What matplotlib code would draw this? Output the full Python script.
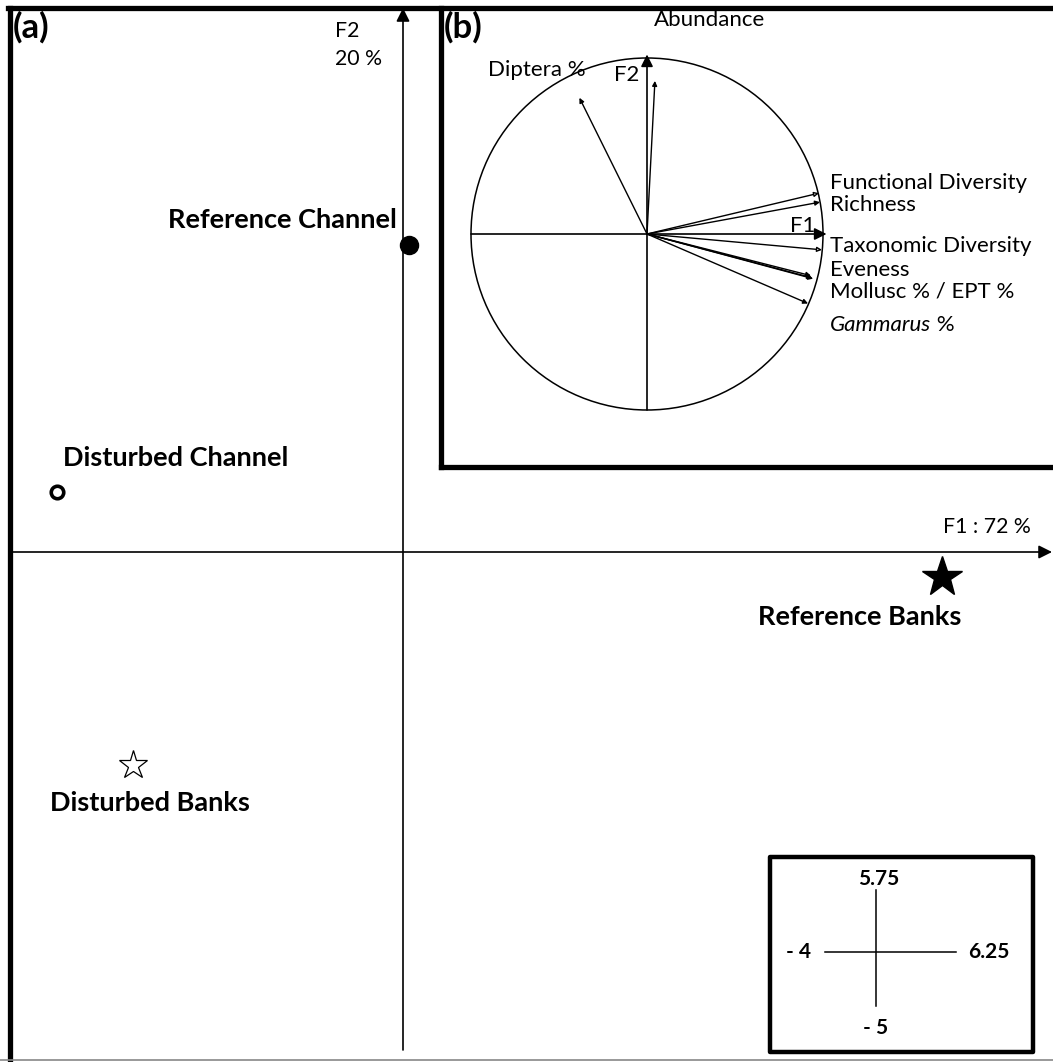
import matplotlib
matplotlib.use("Agg")
import matplotlib.pyplot as plt
from matplotlib.lines import Line2D
from matplotlib.patches import Circle, Rectangle

plt.rcParams['font.family'] = ['Lato', 'DejaVu Sans']

# ---------------- data ----------------
# Panel (a): site scores on F1 / F2
site_names = ["Reference Channel", "Disturbed Channel", "Reference Banks", "Disturbed Banks"]
site_f1 = [0.06, -3.52, 5.49, -2.75]
site_f2 = [3.25, 0.63, -0.26, -2.25]
f1_label = "F1 : 72 %"
f2_label = ["F2", "20 %"]

# Panel (b): correlation circle loadings
var_names = ["Functional Diversity", "Richness", "Taxonomic Diversity", "Eveness",
             "Mollusc %", "EPT %", "Gammarus %", "Diptera %", "Abundance"]
var_f1 = [0.977, 0.983, 0.994, 0.938, 0.932, 0.944, 0.915, -0.384, 0.045]
var_f2 = [0.232, 0.181, -0.090, -0.249, -0.237, -0.254, -0.395, 0.774, 0.870]

# Scale inset: axis extents
scale_x = [-4, 6.25]
scale_y = [-5, 5.75]
scale_labels = ["- 4", "6.25", "- 5", "5.75"]

# ---------------- figure ----------------
W, H = 1053, 1062
fig = plt.figure(figsize=(W / 100, H / 100), dpi=100)


def rect(l, t, r, b):
    return [l / W, 1 - b / H, (r - l) / W, (b - t) / H]


def fx(x):
    return x / W


def fy(y):
    return 1 - y / H


# main axes (panel a) covering the whole figure
ax = fig.add_axes([0, 0, 1, 1])
sx, sy = 98.25, 94.6       # px per unit
ox, oy = 403, 552          # origin in px
ax.set_xlim(-ox / sx, (W - ox) / sx)
ax.set_ylim((oy - H) / sy, oy / sy)
ax.axis('off')

# frame of panel (a)
fig.add_artist(Line2D([fx(10), fx(10)], [fy(8), fy(1059)], color='black', lw=3.8,
                      solid_capstyle='projecting'))
fig.add_artist(Line2D([fx(8), fx(1053)], [fy(8), fy(8)], color='black', lw=3.8,
                      solid_capstyle='projecting'))
fig.add_artist(Line2D([fx(0), fx(1053)], [fy(1060), fy(1060)], color='#888888', lw=1.2))

# axes arrows
xl = ax.get_xlim()
ax.annotate('', xy=(xl[1] - 0.01, 0), xytext=(xl[0] + 0.1, 0),
            arrowprops=dict(arrowstyle='-|>', lw=1.2, color='black', mutation_scale=20,
                            shrinkA=0, shrinkB=0))
ax.annotate('', xy=(0, (oy - 8) / sy), xytext=(0, (oy - 1050) / sy),
            arrowprops=dict(arrowstyle='-|>', lw=1.2, color='black', mutation_scale=20,
                            shrinkA=0, shrinkB=0))

# site points
ax.plot(site_f1[0], site_f2[0], 'o', ms=13, color='black', zorder=5)
ax.plot(site_f1[1], site_f2[1], 'o', ms=9, mfc='white', mec='black', mew=2.6, zorder=5)
ax.plot(site_f1[2], site_f2[2], '*', ms=30, color='black', zorder=5)
ax.plot(site_f1[3], site_f2[3], '*', ms=21, mfc='white', mec='black', mew=0.9, zorder=5)

bold = dict(fontsize=19.5, fontweight='bold', color='black', va='center')
fig.text(fx(397), fy(220), site_names[0], ha='right', **bold)
fig.text(fx(63), fy(458), site_names[1], ha='left', **bold)
fig.text(fx(758), fy(617), site_names[2], ha='left', **bold)
fig.text(fx(50), fy(803), site_names[3], ha='left', **bold)

fig.text(fx(943), fy(527), f1_label, fontsize=15.3, ha='left', va='center')
fig.text(fx(335), fy(31), f2_label[0], fontsize=15.3, ha='left', va='center')
fig.text(fx(335), fy(59), f2_label[1], fontsize=15.3, ha='left', va='center')
fig.text(fx(13), fy(11), "(a)", fontsize=25, fontweight='bold', ha='left', va='top')

# ---------------- panel (b) ----------------
fig.add_artist(Line2D([fx(441), fx(441)], [fy(8), fy(467)], color='black', lw=3.8,
                      solid_capstyle='projecting'))
fig.add_artist(Line2D([fx(441), fx(1053)], [fy(467), fy(467)], color='black', lw=3.8,
                      solid_capstyle='projecting'))

axb = fig.add_axes(rect(444, 11, 1053, 464))
R = 176.0
cx, cy = 647, 234
axb.set_xlim((444 - cx) / R, (1053 - cx) / R)
axb.set_ylim((cy - 464) / R, (cy - 11) / R)
axb.axis('off')
axb.add_patch(Circle((0, 0), 1.0, fill=False, lw=1.1, color='black'))
axb.annotate('', xy=(1.02, 0), xytext=(-1.0, 0),
             arrowprops=dict(arrowstyle='-|>', lw=1.2, color='black', mutation_scale=18,
                             shrinkA=0, shrinkB=0))
axb.annotate('', xy=(0, 1.02), xytext=(0, -1.0),
             arrowprops=dict(arrowstyle='-|>', lw=1.2, color='black', mutation_scale=18,
                             shrinkA=0, shrinkB=0))
for i, (vx, vy) in enumerate(zip(var_f1, var_f2)):
    hollow = var_names[i] in ("Functional Diversity", "Taxonomic Diversity")
    axb.annotate('', xy=(vx, vy), xytext=(0, 0),
                 arrowprops=dict(arrowstyle='-|>', lw=1.0, color='black', mutation_scale=7,
                                 fc='white' if hollow else 'black', shrinkA=0, shrinkB=0))

fs_b = 16
fig.text(fx(444), fy(11), "(b)", fontsize=25, fontweight='bold', ha='left', va='top')
fig.text(fx(654), fy(20), var_names[8], fontsize=fs_b, ha='left', va='center')
fig.text(fx(488), fy(70), var_names[7], fontsize=fs_b, ha='left', va='center')
fig.text(fx(614), fy(75), "F2", fontsize=fs_b, ha='left', va='center')
fig.text(fx(790), fy(226), "F1", fontsize=fs_b, ha='left', va='center')
fig.text(fx(830), fy(183), var_names[0], fontsize=fs_b, ha='left', va='center')
fig.text(fx(830), fy(205), var_names[1], fontsize=fs_b, ha='left', va='center')
fig.text(fx(830), fy(246), var_names[2], fontsize=fs_b, ha='left', va='center')
fig.text(fx(830), fy(270), var_names[3], fontsize=fs_b, ha='left', va='center')
fig.text(fx(830), fy(292), var_names[4] + " / " + var_names[5], fontsize=fs_b,
         ha='left', va='center')
gt = fig.text(fx(830), fy(325), var_names[6].split()[0], fontsize=fs_b, style='italic',
              ha='left', va='center')
axb.annotate(" " + var_names[6].split()[1], xy=(1, 0.5), xycoords=gt, fontsize=fs_b,
             ha='left', va='center')

# ---------------- scale inset ----------------
fig.add_artist(Rectangle((fx(770), fy(1052)), (1033 - 770) / W, (1052 - 857) / H,
                         transform=fig.transFigure, fill=False, lw=3.2, ec='black',
                         joinstyle='round'))
axs = fig.add_axes(rect(772, 859, 1031, 1050))
ux, uy = 12.78, 10.8
zx, zy = 876, 952
axs.set_xlim((772 - zx) / ux, (1031 - zx) / ux)
axs.set_ylim((zy - 1050) / uy, (zy - 859) / uy)
axs.axis('off')
axs.plot(scale_x, [0, 0], color='black', lw=1.1)
axs.plot([0, 0], scale_y, color='black', lw=1.1)
sb = dict(fontsize=15, fontweight='bold', color='black')
axs.annotate(scale_labels[0], xy=(scale_x[0], 0), xytext=(-10, 0), textcoords='offset points',
             ha='right', va='center', **sb)
axs.annotate(scale_labels[1], xy=(scale_x[1], 0), xytext=(9, 0), textcoords='offset points',
             ha='left', va='center', **sb)
axs.annotate(scale_labels[2], xy=(0, scale_y[0]), xytext=(0, -16), textcoords='offset points',
             ha='center', va='center', **sb)
axs.annotate(scale_labels[3], xy=(0, scale_y[1]), xytext=(2, 8), textcoords='offset points',
             ha='center', va='center', **sb)

fig.savefig("out.png", dpi=100, facecolor='white')
